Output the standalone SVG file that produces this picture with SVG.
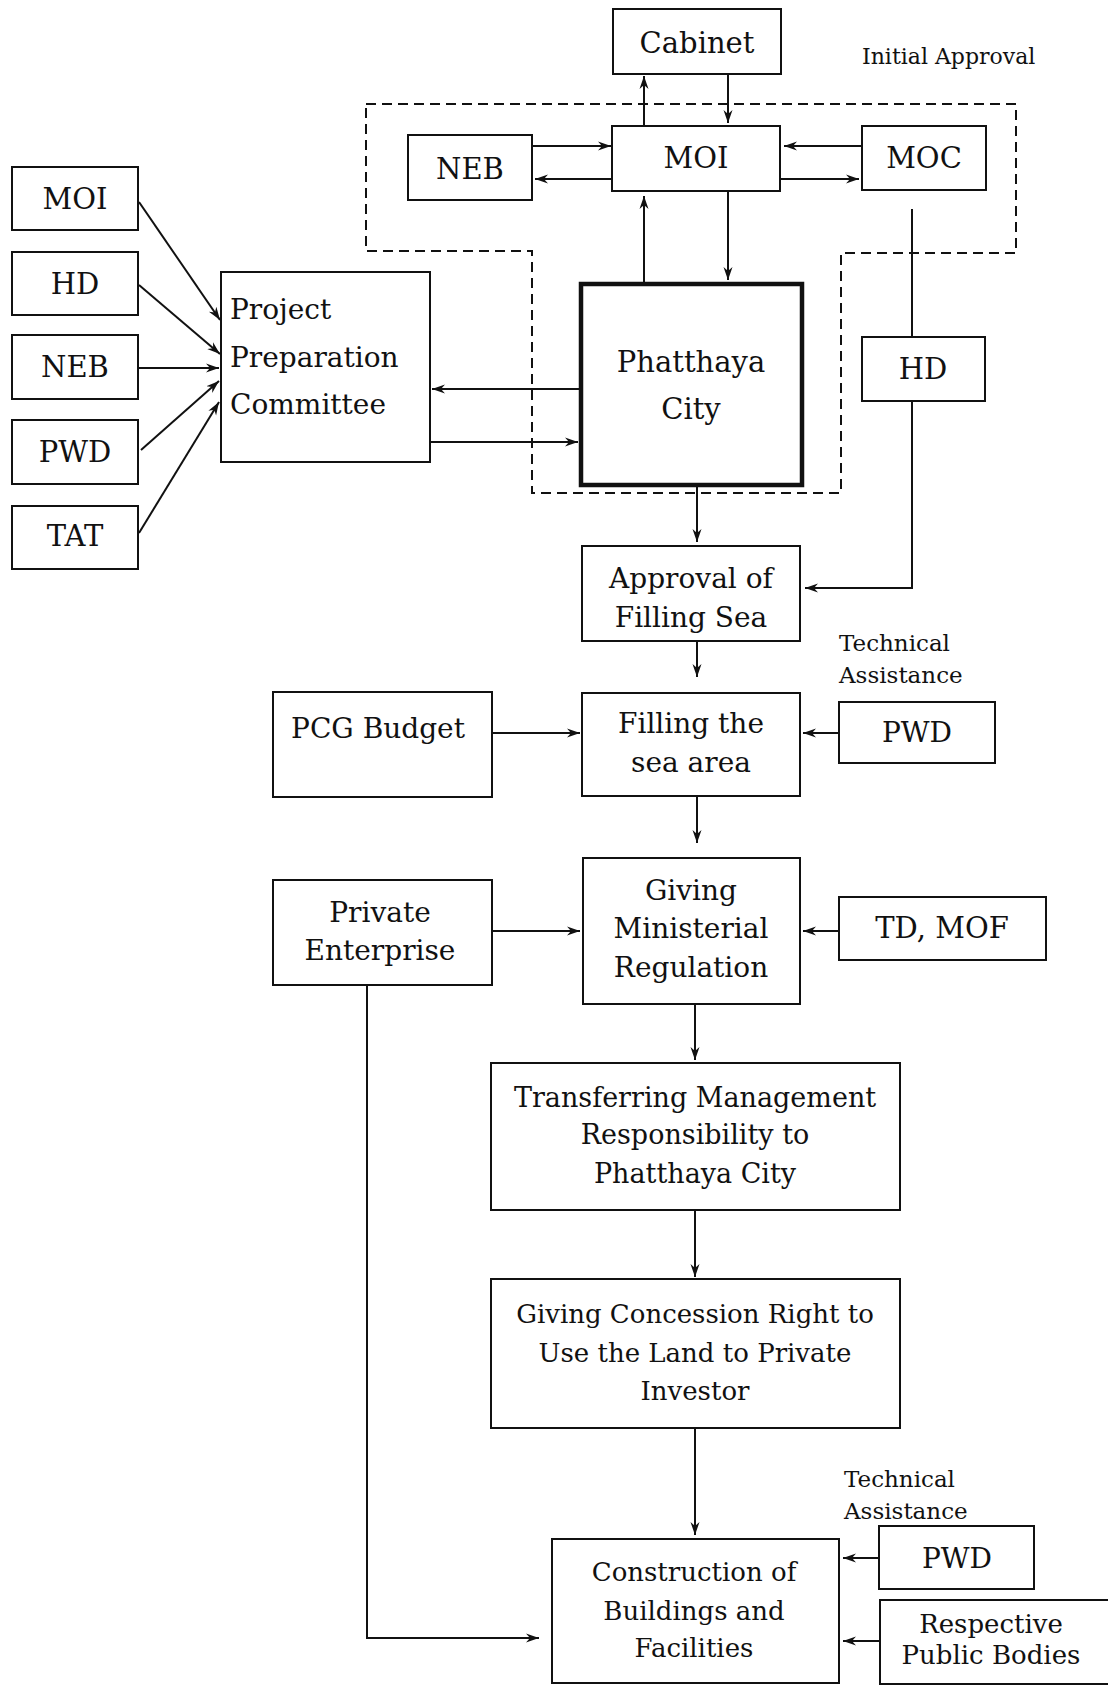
<svg xmlns="http://www.w3.org/2000/svg" width="1108" height="1686" viewBox="0 0 1108 1686">
<defs>
<marker id="ah" markerUnits="userSpaceOnUse" markerWidth="16" markerHeight="12" refX="13" refY="5" orient="auto">
<path d="M0,0.5 L13,5 L0,9.5 L4,5 Z" fill="#111"/>
</marker>
<style>
.box{fill:#fff;stroke:#111;stroke-width:2}
.thick{fill:#fff;stroke:#111;stroke-width:4.5}
.t{font-family:"DejaVu Serif","Liberation Serif",serif;fill:#111;text-anchor:middle}
.l{font-family:"DejaVu Serif","Liberation Serif",serif;fill:#111}
.c{fill:none;stroke:#111;stroke-width:2;marker-end:url(#ah)}
.p{fill:none;stroke:#111;stroke-width:2}
.dash{fill:none;stroke:#111;stroke-width:2;stroke-dasharray:10,6}
</style>
</defs>
<rect width="1108" height="1686" fill="#fff"/>

<path class="dash" d="M366,104 L1016,104 L1016,253 L841,253 L841,493 L532,493 L532,251 L366,251 Z"/>

<g id="connectors">
<path class="c" d="M139,202 L220,320"/>
<path class="c" d="M139,285 L220,354"/>
<path class="c" d="M139,368 L219,368"/>
<path class="c" d="M141,450 L219,381"/>
<path class="c" d="M139,533 L219,402"/>
<path class="c" d="M532,146 L611,146"/>
<path class="c" d="M612,179 L535,179"/>
<path class="c" d="M862,146 L784,146"/>
<path class="c" d="M780,179 L859,179"/>
<path class="c" d="M644,126 L644,76"/>
<path class="c" d="M728,73 L728,123"/>
<path class="c" d="M644,284 L644,196"/>
<path class="c" d="M728,191 L728,280"/>
<path class="c" d="M581,389 L432,389"/>
<path class="c" d="M430,442 L578,442"/>
<path class="p" d="M912,209 L912,337"/>
<path class="c" d="M912,401 L912,588 L805,588"/>
<path class="c" d="M697,463 L697,542"/>
<path class="c" d="M697,641 L697,677"/>
<path class="c" d="M492,733 L580,733"/>
<path class="c" d="M839,733 L803,733"/>
<path class="c" d="M697,796 L697,843"/>
<path class="c" d="M492,931 L580,931"/>
<path class="c" d="M839,931 L803,931"/>
<path class="c" d="M695,1004 L695,1060"/>
<path class="c" d="M695,1210 L695,1277"/>
<path class="c" d="M695,1428 L695,1535"/>
<path class="c" d="M879,1558 L843,1558"/>
<path class="c" d="M880,1641 L843,1641"/>
<path class="c" d="M367,985 L367,1638 L539,1638"/>
</g>

<g id="cabinet"><rect class="box" x="613" y="9" width="168" height="65"/><text class="t" x="697" y="53" font-size="29">Cabinet</text></g>
<g id="moi-center"><rect class="box" x="612" y="126" width="168" height="65"/><text class="t" x="696" y="168" font-size="29">MOI</text></g>
<g id="neb-top"><rect class="box" x="408" y="135" width="124" height="65"/><text class="t" x="470" y="179" font-size="29">NEB</text></g>
<g id="moc"><rect class="box" x="862" y="126" width="124" height="64"/><text class="t" x="924" y="168" font-size="29">MOC</text></g>
<g id="phatthaya"><rect class="thick" x="581" y="284" width="221" height="201"/><text class="t" x="691" y="372" font-size="29">Phatthaya</text><text class="t" x="691" y="419" font-size="29">City</text></g>
<g id="hd-right"><rect class="box" x="862" y="337" width="123" height="64"/><text class="t" x="923" y="379" font-size="29">HD</text></g>

<g id="moi-left"><rect class="box" x="12" y="167" width="126" height="63"/><text class="t" x="75" y="209" font-size="29">MOI</text></g>
<g id="hd-left"><rect class="box" x="12" y="252" width="126" height="63"/><text class="t" x="75" y="294" font-size="29">HD</text></g>
<g id="neb-left"><rect class="box" x="12" y="335" width="126" height="64"/><text class="t" x="75" y="377" font-size="29">NEB</text></g>
<g id="pwd-left"><rect class="box" x="12" y="420" width="126" height="64"/><text class="t" x="75" y="462" font-size="29">PWD</text></g>
<g id="tat-left"><rect class="box" x="12" y="506" width="126" height="63"/><text class="t" x="75" y="546" font-size="29">TAT</text></g>

<g id="ppc"><rect class="box" x="221" y="272" width="209" height="190"/><text class="l" x="230" y="319" font-size="28">Project</text><text class="l" x="230" y="367" font-size="28">Preparation</text><text class="l" x="230" y="414" font-size="28">Committee</text></g>

<g id="initial-approval"><text class="l" x="862" y="64" font-size="22">Initial Approval</text></g>

<g id="approval"><rect class="box" x="582" y="546" width="218" height="95"/><text class="t" x="691" y="588" font-size="28">Approval of</text><text class="t" x="691" y="627" font-size="28">Filling Sea</text></g>
<g id="pcg"><rect class="box" x="273" y="692" width="219" height="105"/><text class="t" x="378" y="738" font-size="28">PCG Budget</text></g>
<g id="filling"><rect class="box" x="582" y="693" width="218" height="103"/><text class="t" x="691" y="733" font-size="28">Filling the</text><text class="t" x="691" y="772" font-size="28">sea area</text></g>
<g id="ta1"><text class="l" x="839" y="651" font-size="23">Technical</text><text class="l" x="839" y="683" font-size="23">Assistance</text></g>
<g id="pwd-mid"><rect class="box" x="839" y="702" width="156" height="61"/><text class="t" x="917" y="742" font-size="28">PWD</text></g>

<g id="private"><rect class="box" x="273" y="880" width="219" height="105"/><text class="t" x="380" y="922" font-size="28">Private</text><text class="t" x="380" y="960" font-size="28">Enterprise</text></g>
<g id="giving"><rect class="box" x="583" y="858" width="217" height="146"/><text class="t" x="691" y="900" font-size="28">Giving</text><text class="t" x="691" y="938" font-size="28">Ministerial</text><text class="t" x="691" y="977" font-size="28">Regulation</text></g>
<g id="tdmof"><rect class="box" x="839" y="897" width="207" height="63"/><text class="t" x="942" y="938" font-size="29">TD, MOF</text></g>

<g id="transferring"><rect class="box" x="491" y="1063" width="409" height="147"/><text class="t" x="695" y="1107" font-size="27">Transferring Management</text><text class="t" x="695" y="1144" font-size="27">Responsibility to</text><text class="t" x="695" y="1183" font-size="27">Phatthaya City</text></g>
<g id="concession"><rect class="box" x="491" y="1279" width="409" height="149"/><text class="t" x="695" y="1323" font-size="26">Giving Concession Right to</text><text class="t" x="695" y="1362" font-size="26">Use the Land to Private</text><text class="t" x="695" y="1400" font-size="26">Investor</text></g>

<g id="ta2"><text class="l" x="844" y="1487" font-size="23">Technical</text><text class="l" x="844" y="1519" font-size="23">Assistance</text></g>
<g id="construction"><rect class="box" x="552" y="1539" width="287" height="144"/><text class="t" x="694" y="1581" font-size="26">Construction of</text><text class="t" x="694" y="1620" font-size="26">Buildings and</text><text class="t" x="694" y="1657" font-size="26">Facilities</text></g>
<g id="pwd-bottom"><rect class="box" x="879" y="1526" width="155" height="63"/><text class="t" x="957" y="1568" font-size="28">PWD</text></g>
<g id="rpb"><rect class="box" x="880" y="1600" width="240" height="84"/><text class="t" x="991" y="1633" font-size="26">Respective</text><text class="t" x="991" y="1664" font-size="26">Public Bodies</text></g>
</svg>
